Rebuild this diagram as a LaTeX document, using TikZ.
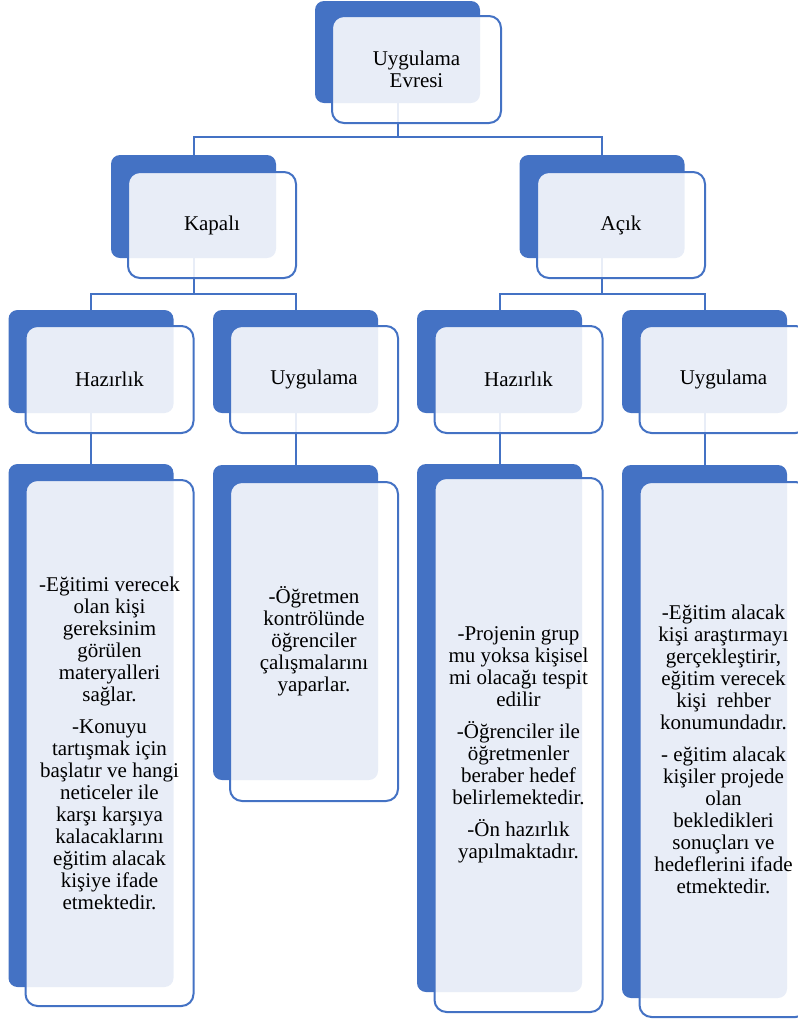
\documentclass[tikz,border=0pt]{standalone}
\usepackage{fontspec}
\setmainfont{Liberation Serif}
\usepackage{xcolor}
\usepackage{tikz}
\definecolor{accent}{HTML}{4472C4}

\begin{document}
\begin{tikzpicture}[x=1pt, y=-1pt, font=\fontsize{21}{22}\selectfont]
		\tikzstyle{back} = [fill=accent, rounded corners=9pt, inner sep=0pt, minimum width=165pt]
		\tikzstyle{front} = [draw=accent, line width=2pt, fill=white, fill opacity=0.88, text opacity=1, rounded corners=12pt, inner sep=0pt, minimum width=168pt, align=center]
		\tikzstyle{link} = [draw=accent, line width=2pt]
		
		\clip (0, 0) rectangle (798, 1021);
		
		\node[back, minimum height=102pt]	at (397.5, 52)		(evre-b)	{};
		
		\node[back, minimum height=103pt]	at (193.5, 206.5)	(kapali-b)	{};
		\node[back, minimum height=103pt]	at (602, 206.5)		(acik-b)	{};
		
		\node[back, minimum height=103pt]	at (91, 361.5)		(khaz-b)	{};
		\node[back, minimum height=103pt]	at (295.5, 361.5)	(kuyg-b)	{};
		\node[back, minimum height=103pt]	at (499.5, 361.5)	(ahaz-b)	{};
		\node[back, minimum height=103pt]	at (704.5, 361.5)	(auyg-b)	{};
		
		\node[back, minimum height=523pt]	at (91, 725.5)		(khazt-b)	{};
		\node[back, minimum height=315pt]	at (295.5, 622.5)	(kuygt-b)	{};
		\node[back, minimum height=528pt]	at (499.5, 728)		(ahazt-b)	{};
		\node[back, minimum height=533pt]	at (704.5, 731.5)	(auygt-b)	{};
		
		\draw [link] (evre-b.south) -- ++(0, 34) -| (kapali-b.north);
		\draw [link] (evre-b.south) -- ++(0, 34) -| (acik-b.north);
		
		\draw [link] (kapali-b.south) -- ++(0, 36) -| (khaz-b.north);
		\draw [link] (kapali-b.south) -- ++(0, 36) -| (kuyg-b.north);
		\draw [link] (acik-b.south) -- ++(0, 36) -| (ahaz-b.north);
		\draw [link] (acik-b.south) -- ++(0, 36) -| (auyg-b.north);
		
		\draw [link] (khaz-b) -- (khazt-b);
		\draw [link] (kuyg-b) -- (kuygt-b);
		\draw [link] (ahaz-b) -- (ahazt-b);
		\draw [link] (auyg-b) -- (auygt-b);
		
		\node[front, minimum width=169pt, minimum height=107pt]	at (416.5, 69.5)	(evre)	{Uygulama\\Evresi};
		
		\node[front, minimum height=106pt]	at (212, 225)		(kapali)	{Kapalı};
		\node[front, minimum height=106pt]	at (621, 225)		(acik)		{Açık};
		
		\node[front, minimum height=107pt]	at (109.5, 379.5)	(khaz)	{Hazırlık};
		\node[front, minimum height=107pt]	at (314, 379.5)		(kuyg)	{Uygulama};
		\node[front, minimum height=107pt]	at (518.5, 379.5)	(ahaz)	{Hazırlık};
		\node[front, minimum height=107pt]	at (723.5, 379.5)	(auyg)	{Uygulama};
		
		\node[front, minimum height=526pt]	at (109.5, 743)		(khazt)	{-Eğitimi verecek\\olan kişi\\gereksinim\\görülen\\materyalleri\\sağlar.\\[10pt]
															 -Konuyu\\tartışmak için\\başlatır ve hangi\\neticeler ile\\karşı karşıya\\kalacaklarını\\eğitim alacak\\kişiye ifade\\etmektedir.};
		\node[front, minimum height=319pt]	at (314, 641.5)		(kuygt)	{-Öğretmen\\kontrölünde\\öğrenciler\\çalışmalarını\\yaparlar.};
		\node[front, minimum height=534pt]	at (518.5, 745)		(ahazt)	{-Projenin grup\\mu yoksa kişisel\\mi olacağı tespit\\edilir\\[10pt]
															 -Öğrenciler ile\\öğretmenler\\beraber hedef\\belirlemektedir.\\[10pt]
															 -Ön hazırlık\\yapılmaktadır.};
		\node[front, minimum height=535pt]	at (723.5, 749.5)	(auygt)	{-Eğitim alacak\\kişi araştırmayı\\gerçekleştirir,\\eğitim verecek\\kişi~ rehber\\konumundadır.\\[10pt]
															 - eğitim alacak\\kişiler projede\\olan\\bekledikleri\\sonuçları ve\\hedeflerini ifade\\etmektedir.};
	\end{tikzpicture}
\end{document}
